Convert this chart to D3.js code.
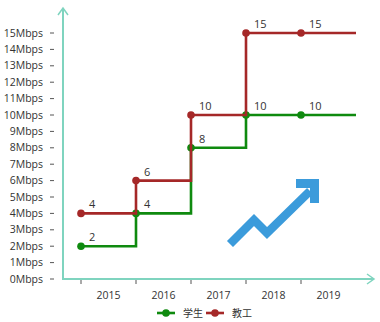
<!DOCTYPE html>
<html>
<head>
<meta charset="utf-8">
<script src="https://cdn.jsdelivr.net/npm/d3@7"></script>
<style>
  html, body { margin: 0; padding: 0; background: #fff; }
  svg { display: block; font-family: "Open Sans", "Noto Sans", "Noto Sans CJK SC", sans-serif; }
</style>
</head>
<body>
<svg id="chart" width="380" height="322"></svg>
<script>
// Bandwidth per year, in Mbps
const years = ["2015", "2016", "2017", "2018", "2019"];
const studentValues = [2, 4, 8, 10, 10];
const staffValues = [4, 6, 10, 15, 15];
const seriesNames = ["学生", "教工"];
const yTicks = d3.range(0, 16);

const colors = { student: "#0f8a0f", staff: "#a52828", axis: "#7fd4bf", arrow: "#3b9bdb", text: "#333" };

const svg = d3.select("#chart");

// Year index scale: each point sits at the start of its year band
const x = d3.scaleLinear().domain([0, years.length]).range([81, 356]);
const y = d3.scaleLinear().domain([0, 15]).range([279, 33]);

// Axes
const axisG = svg.append("g");
axisG.append("line").attr("x1", 63).attr("x2", 63).attr("y1", 279).attr("y2", 9)
  .attr("stroke", colors.axis).attr("stroke-width", 2);
axisG.append("path").attr("d", "M58,15 L63,8 L68,15").attr("fill", "none")
  .attr("stroke", colors.axis).attr("stroke-width", 1.5);
axisG.append("line").attr("x1", 62).attr("x2", 374).attr("y1", 279).attr("y2", 279)
  .attr("stroke", colors.axis).attr("stroke-width", 2);
axisG.append("path").attr("d", "M367,274 L374,279 L367,284").attr("fill", "none")
  .attr("stroke", colors.axis).attr("stroke-width", 1.5);

// Y tick marks and labels
const yG = svg.append("g");
yG.selectAll("line.tick").data(yTicks).join("line")
  .attr("x1", 50).attr("x2", 54)
  .attr("y1", d => y(d)).attr("y2", d => y(d))
  .attr("stroke", "#555").attr("stroke-width", 1);
yG.selectAll("text").data(yTicks).join("text")
  .attr("x", 43).attr("y", d => y(d)).attr("dy", "0.35em")
  .attr("text-anchor", "end").attr("font-size", 10.5).attr("fill", colors.text)
  .text(d => d + "Mbps");

// X tick marks and year labels
const xG = svg.append("g");
xG.selectAll("line").data(years).join("line")
  .attr("x1", (d, i) => x(i)).attr("x2", (d, i) => x(i))
  .attr("y1", 280).attr("y2", 284)
  .attr("stroke", "#555").attr("stroke-width", 1);
xG.selectAll("text").data(years).join("text")
  .attr("x", (d, i) => x(i + 0.5)).attr("y", 299)
  .attr("text-anchor", "middle").attr("font-size", 10.5).attr("fill", colors.text)
  .text(d => d);

// Step lines, extended to the end of the last year
const line = d3.line().x(d => x(d[0])).y(d => y(d[1])).curve(d3.curveStepAfter);

function drawSeries(values, color) {
  const pts = values.map((v, i) => [i, v]);
  pts.push([values.length, values[values.length - 1]]);
  const g = svg.append("g");
  g.append("path").attr("d", line(pts)).attr("fill", "none")
    .attr("stroke", color).attr("stroke-width", 2.6);
  g.selectAll("circle").data(values).join("circle")
    .attr("cx", (d, i) => x(i)).attr("cy", d => y(d)).attr("r", 3.8)
    .attr("fill", color);
  g.selectAll("text").data(values).join("text")
    .attr("x", (d, i) => x(i) + 8).attr("y", d => y(d) - 5)
    .attr("font-size", 11).attr("fill", colors.text)
    .text(d => d);
}
drawSeries(studentValues, colors.student);
drawSeries(staffValues, colors.staff);

// Rising-trend icon
const icon = svg.append("g").attr("fill", colors.arrow).attr("stroke", colors.arrow);
icon.append("path")
  .attr("d", "M230,244 L254,220 L267,233 L310,191")
  .attr("fill", "none").attr("stroke-width", 8.5).attr("stroke-linejoin", "miter");
icon.append("path")
  .attr("d", "M296,179 L319,179 L319,203 L310,203 L310,188 L296,188 Z")
  .attr("stroke", "none");

// Legend
const legend = svg.append("g");
const legendItems = [
  { name: seriesNames[0], color: colors.student, x: 157 },
  { name: seriesNames[1], color: colors.staff, x: 206 }
];
legendItems.forEach(it => {
  legend.append("line").attr("x1", it.x).attr("x2", it.x + 18)
    .attr("y1", 313).attr("y2", 313).attr("stroke", it.color).attr("stroke-width", 2.6);
  legend.append("circle").attr("cx", it.x + 9).attr("cy", 313).attr("r", 3.8).attr("fill", it.color);
  legend.append("text").attr("x", it.x + 26).attr("y", 313).attr("dy", "0.35em")
    .attr("font-size", 10).attr("fill", colors.text)
    .attr("font-family", "'Noto Sans CJK SC', sans-serif")
    .text(it.name);
});
</script>
</body>
</html>
